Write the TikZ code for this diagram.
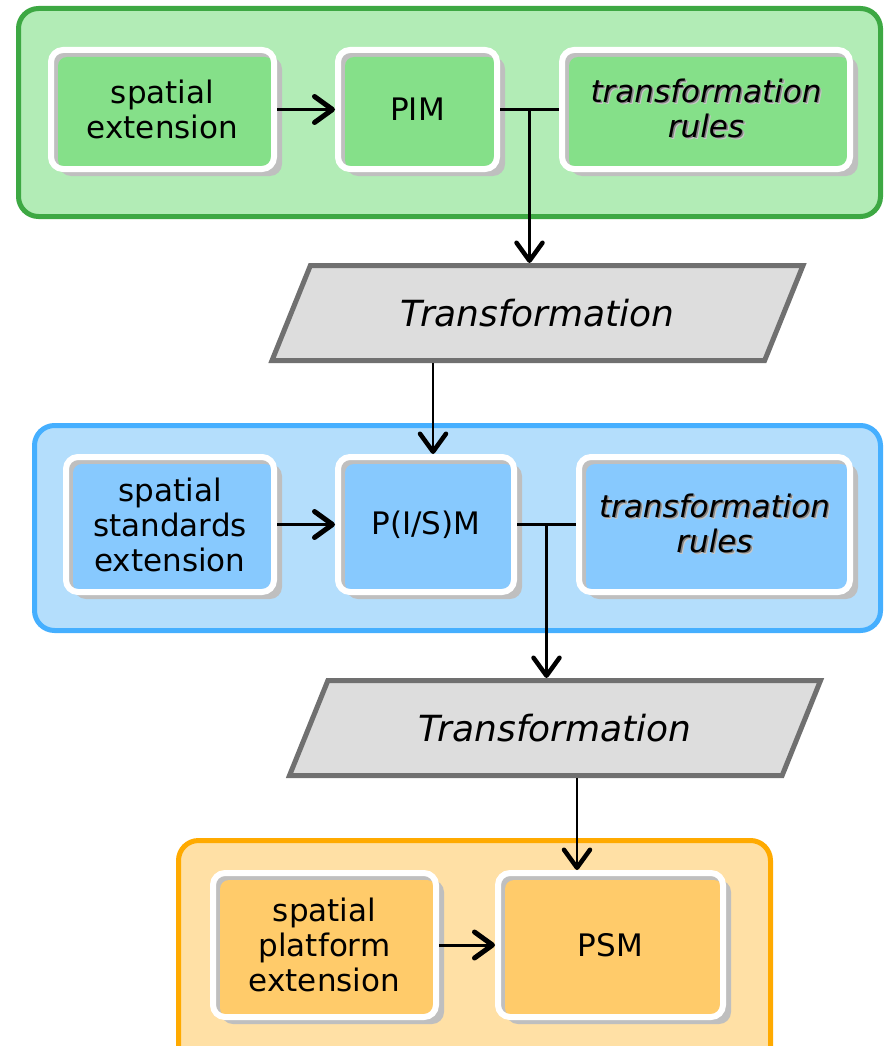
\documentclass[tikz,border=0pt]{standalone}
\usepackage{fontspec}
\setmainfont{DejaVu Sans}
\usetikzlibrary{shapes.geometric, shadows, arrows.meta, calc}

\definecolor{greenline}{HTML}{3DA843}
\definecolor{greenlayer}{HTML}{B2ECB6}
\definecolor{greenbox}{HTML}{85E089}
\definecolor{blueline}{HTML}{45AFFF}
\definecolor{bluelayer}{HTML}{B4DEFC}
\definecolor{bluebox}{HTML}{87C9FE}
\definecolor{orangeline}{HTML}{FFAA00}
\definecolor{orangelayer}{HTML}{FFE0A5}
\definecolor{orangebox}{HTML}{FFCB6A}
\definecolor{shadowgray}{HTML}{BFBFBF}
\definecolor{transfill}{HTML}{DDDDDD}
\definecolor{transline}{HTML}{707070}

% italic text with a soft shadow
\newcommand{\txtshadow}[1]{\leavevmode\rlap{\kern2.4pt\raisebox{-2.4pt}{\textcolor{black!22}{#1}}}\rlap{\kern1.4pt\raisebox{-1.4pt}{\textcolor{black!50}{#1}}}#1}

\begin{document}
\begin{tikzpicture}[x=1pt, y=-1pt,
    layer/.style = {line width=5pt, rounded corners=20pt},
    model/.style = {draw=white, line width=6pt, rounded corners=12pt, inner sep=0pt, align=center,
        font=\fontsize{31}{35}\selectfont, fill=#1,
        drop shadow={shadow xshift=8pt, shadow yshift=-7pt, fill=shadowgray, opacity=1},
        path picture={\fill[shadowgray] (path picture bounding box.south west) rectangle (path picture bounding box.north east);
            \fill[#1, rounded corners=9pt] ([shift={(7pt,-7pt)}]path picture bounding box.north west) rectangle (path picture bounding box.south east);}},
    rules/.style = {font=\fontsize{31}{35}\selectfont\itshape},
    trans/.style = {draw=transline, fill=transfill, line width=5pt, trapezium, trapezium left angle=68,
        trapezium right angle=112, trapezium stretches body, minimum width=531pt,
        text height=27pt, text depth=0pt, inner xsep=0pt, inner ysep=34pt,
        font=\fontsize{36}{40}\selectfont\itshape},
    arr/.style = {-{Straight Barb[length=18pt, width=26pt, line width=2pt 1, round]}, line width=3pt},
    varr/.style = {arr, line width=2.5pt},
    conn/.style = {line width=2.5pt}]
    \path[use as bounding box, clip] (0,0) rectangle (884,1046);

    % layers
    \draw[layer, draw=greenline, fill=greenlayer] (18.5,8.5) rectangle (880.5,216.5);
    \draw[layer, draw=blueline, fill=bluelayer] (34.5,425.5) rectangle (880.5,630.5);
    \draw[layer, draw=orangeline, fill=orangelayer] (178.5,840.5) rectangle (770.5,1070);

    % PIM layer
    \node[model=greenbox, minimum width=223, minimum height=119] (ext1) at (162.5,109.5) {spatial\\extension};
    \node[model=greenbox, minimum width=159, minimum height=119] (pim) at (417.5,109.5) {PIM};
    \node[model=greenbox, rules, minimum width=288, minimum height=119] (rules1) at (706,109.5) {\txtshadow{transformation}\\\txtshadow{rules}};
    \node[trans] (trans1) at (537.5,313) {Transformation};

    % P(I/S)M layer
    \node[model=bluebox, minimum width=208, minimum height=135] (ext2) at (170,524.5) {spatial\\standards\\extension};
    \node[model=bluebox, minimum width=176, minimum height=135] (pism) at (426,524.5) {P(I/S)M};
    \node[model=bluebox, rules, minimum width=271, minimum height=135] (rules2) at (714.5,524.5) {\txtshadow{transformation}\\\txtshadow{rules}};
    \node[trans] (trans2) at (555,728) {Transformation};

    % PSM layer
    \node[model=orangebox, minimum width=223, minimum height=144] (ext3) at (324.5,945) {spatial\\platform\\extension};
    \node[model=orangebox, minimum width=225, minimum height=144] (psm) at (610.5,945) {PSM};

    % connectors
    \coordinate (j1) at ($(pim.east)!.5!(rules1.west)$);
    \coordinate (j2) at ($(pism.east)!.5!(rules2.west)$);
    \coordinate (in2) at ([xshift=7pt]pism.north);
    \coordinate (in3) at ([xshift=-33.5pt]psm.north);
    \draw[arr] (ext1) -- (pim);
    \draw[conn] (pim) -- (rules1);
    \draw[varr] (j1) -- (j1 |- trans1.north);
    \draw[varr] (trans1.south -| in2) -- (in2);
    \draw[arr] (ext2) -- (pism);
    \draw[conn] (pism) -- (rules2);
    \draw[varr] (j2) -- (j2 |- trans2.north);
    \draw[varr] (trans2.south -| in3) -- (in3);
    \draw[arr] (ext3) -- (psm);
\end{tikzpicture}
\end{document}
